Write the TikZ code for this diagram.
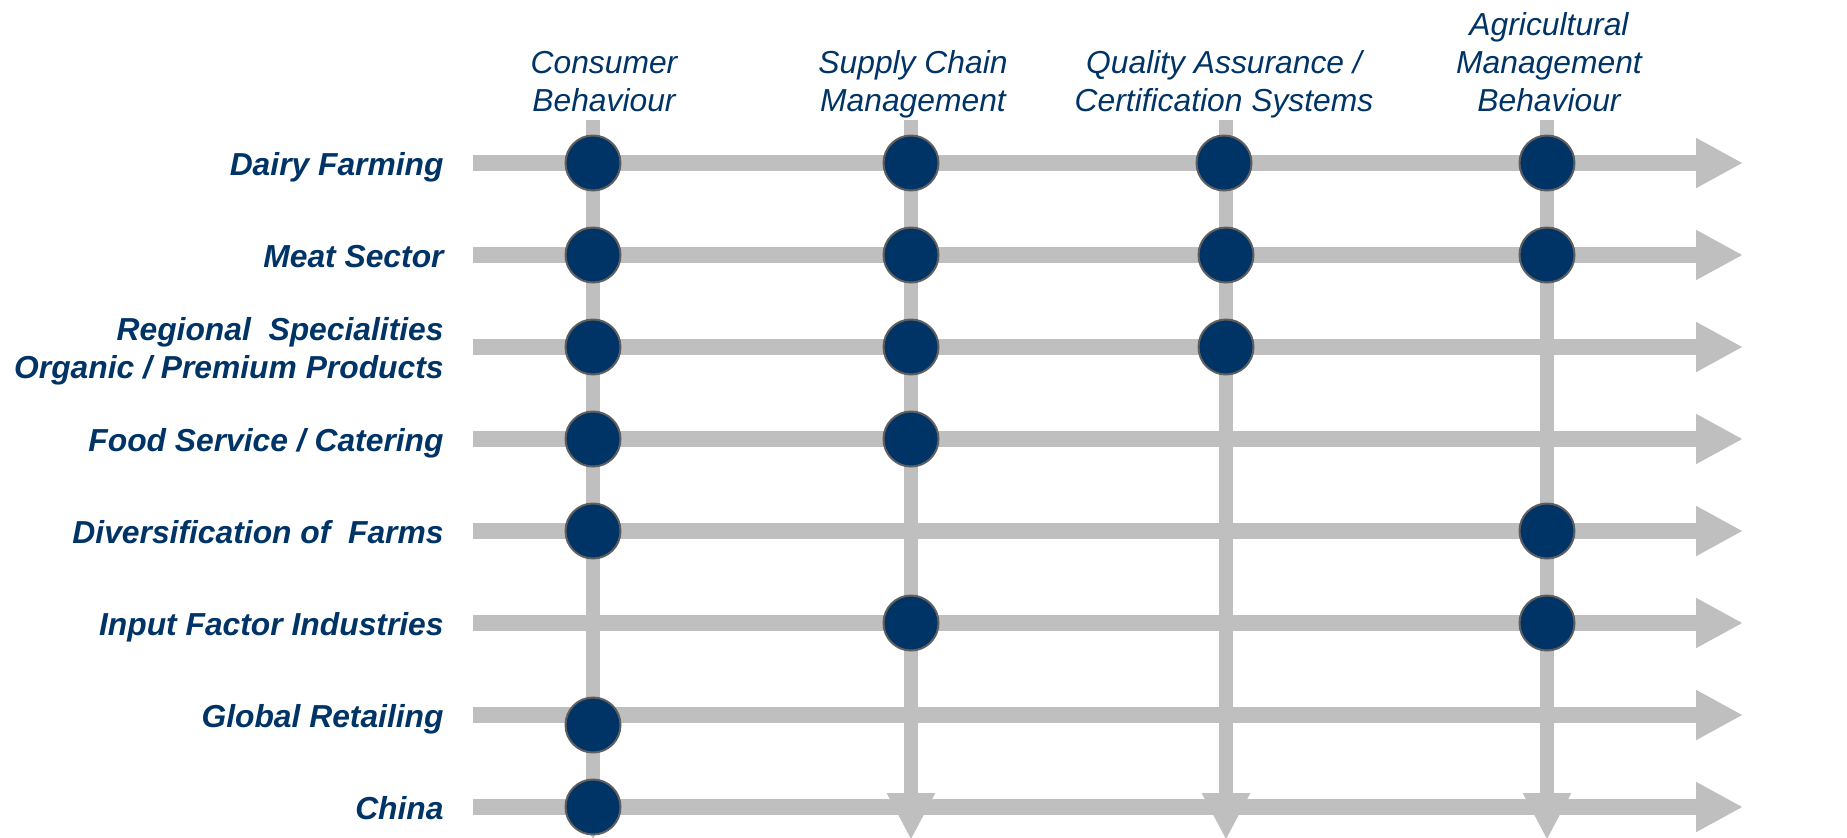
\documentclass[tikz,border=0pt]{standalone}
\usepackage{fontspec}
\setmainfont{Liberation Sans}
\usetikzlibrary{arrows.meta}

\definecolor{navy}{RGB}{0,51,102}
\definecolor{trackgray}{RGB}{191,191,191}
\definecolor{rimgray}{RGB}{95,95,95}

\tikzset{
	rowlabel/.style={anchor=base east, align=right, inner sep=0pt, text=navy,
		font=\fontsize{15.9}{18.9}\selectfont\bfseries\itshape},
	collabel/.style={anchor=base, align=center, inner sep=0pt, text=navy,
		font=\fontsize{15.9}{18.9}\selectfont\itshape},
	rowtrack/.style={draw=trackgray, line width=8.25pt, -{Triangle[length=23.5pt,width=23.5pt]}},
	coltrack/.style={draw=trackgray, line width=7pt, -{Triangle[length=23.5pt,width=22.5pt]}},
	hit/.style={circle, fill=navy, draw=rimgray, line width=1pt, minimum size=27.5pt, inner sep=0pt}}

\begin{document}
\begin{tikzpicture}[x=0.5pt,y=0.5pt,yscale=-1,xscale=1]
	\useasboundingbox (0,0) rectangle (1847,837);
	\clip (0,0) rectangle (1847,837);

	% Track ends
	\coordinate (c1s) at (593,120);  \coordinate (c1e) at (593,840);
	\coordinate (c2s) at (911,120);  \coordinate (c2e) at (911,840);
	\coordinate (c3s) at (1226,120); \coordinate (c3e) at (1226,840);
	\coordinate (c4s) at (1547,120); \coordinate (c4e) at (1547,840);
	\coordinate (r1s) at (473,163); \coordinate (r1e) at (1743,163);
	\coordinate (r2s) at (473,255); \coordinate (r2e) at (1743,255);
	\coordinate (r3s) at (473,347); \coordinate (r3e) at (1743,347);
	\coordinate (r4s) at (473,439); \coordinate (r4e) at (1743,439);
	\coordinate (r5s) at (473,531); \coordinate (r5e) at (1743,531);
	\coordinate (r6s) at (473,623); \coordinate (r6e) at (1743,623);
	\coordinate (r7s) at (473,715); \coordinate (r7e) at (1743,715);
	\coordinate (r8s) at (473,807); \coordinate (r8e) at (1743,807);

	%Shape: Column arrows
	\draw[coltrack] (c1s) -- (c1e);
	\draw[coltrack] (c2s) -- (c2e);
	\draw[coltrack] (c3s) -- (c3e);
	\draw[coltrack] (c4s) -- (c4e);

	%Shape: Row arrows
	\draw[rowtrack] (r1s) -- (r1e);
	\draw[rowtrack] (r2s) -- (r2e);
	\draw[rowtrack] (r3s) -- (r3e);
	\draw[rowtrack] (r4s) -- (r4e);
	\draw[rowtrack] (r5s) -- (r5e);
	\draw[rowtrack] (r6s) -- (r6e);
	\draw[rowtrack] (r7s) -- (r7e);
	\draw[rowtrack] (r8s) -- (r8e);

	% Text Node: columns
	\node[collabel] (consumer) at (604,111) {Consumer\\Behaviour};
	\node[collabel] (supply) at (913,111) {Supply Chain\\Management};
	\node[collabel] (quality) at (1224,111) {Quality Assurance /\\Certification Systems};
	\node[collabel] (agri) at (1549,111) {Agricultural\\Management\\Behaviour};

	% Text Node: rows
	\node[rowlabel] (dairy) at (444,175.5) {Dairy Farming};
	\node[rowlabel] (meat) at (444,267.5) {Meat Sector};
	\node[rowlabel] (regional) at (444,378) {Regional~ Specialities\\Organic / Premium Products};
	\node[rowlabel] (food) at (444,451.5) {Food Service / Catering};
	\node[rowlabel] (divers) at (444,543.5) {Diversification of~ Farms};
	\node[rowlabel] (input) at (444,635.5) {Input Factor Industries};
	\node[rowlabel] (retail) at (444,727.5) {Global Retailing};
	\node[rowlabel] (china) at (444,819.5) {China};

	%Shape: Circles
	\node[hit] (dairy-c1) at (593,163) {};
	\node[hit] (dairy-c2) at (911,163) {};
	\node[hit] (dairy-c3) at (1224,163) {};
	\node[hit] (dairy-c4) at (1547,163) {};
	\node[hit] (meat-c1) at (593,255) {};
	\node[hit] (meat-c2) at (911,255) {};
	\node[hit] (meat-c3) at (1226,255) {};
	\node[hit] (meat-c4) at (1547,255) {};
	\node[hit] (regional-c1) at (593,347) {};
	\node[hit] (regional-c2) at (911,347) {};
	\node[hit] (regional-c3) at (1226,347) {};
	\node[hit] (food-c1) at (593,439) {};
	\node[hit] (food-c2) at (911,439) {};
	\node[hit] (divers-c1) at (593,531) {};
	\node[hit] (divers-c4) at (1547,531) {};
	\node[hit] (input-c2) at (911,623) {};
	\node[hit] (input-c4) at (1547,623) {};
	\node[hit] (retail-c1) at (593,725) {};
	\node[hit] (china-c1) at (593,807) {};

\end{tikzpicture}
\end{document}
